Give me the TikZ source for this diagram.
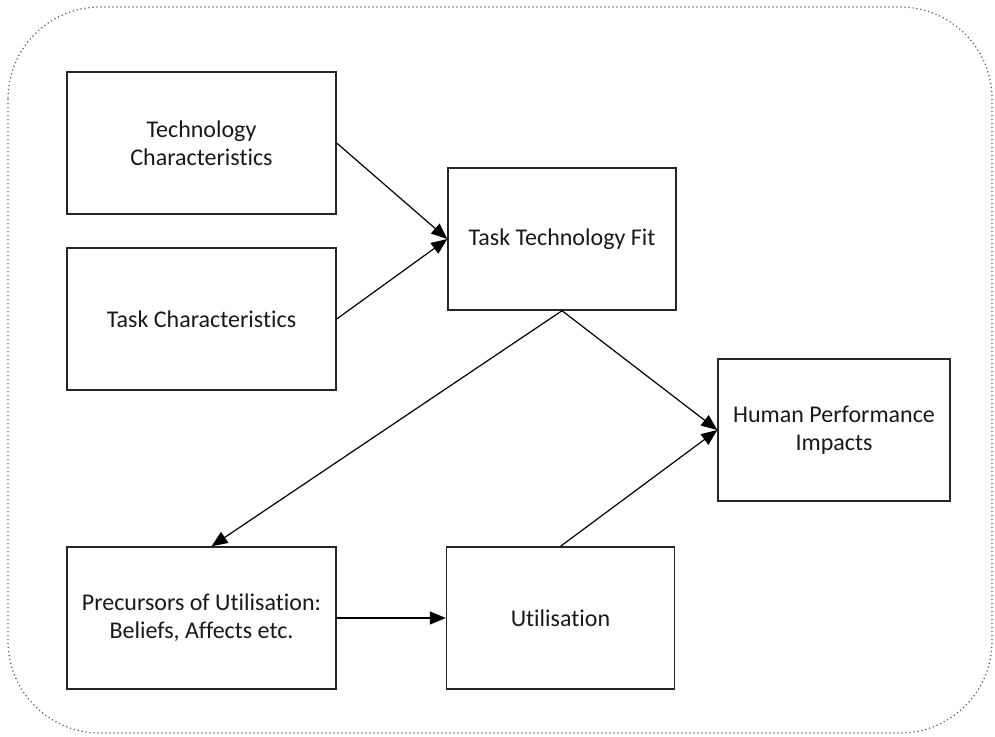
\documentclass[tikz,border=0pt]{standalone}
\usepackage{fontspec}
\setmainfont{Carlito}[Ligatures=NoCommon]
\usetikzlibrary{arrows.meta}
\begin{document}
\begin{tikzpicture}[x=1pt,y=-1pt,
  box/.style={draw=black!85, line width=1.4pt, minimum height=142pt, align=center,
    inner sep=0pt, font=\fontsize{24}{28}\selectfont, text=black!90},
  wide/.style={box, minimum width=269pt},
  mid/.style={box, minimum width=228pt},
  link/.style={line width=1.2pt, -{Triangle[length=16pt,width=13pt]}},
  frame/.style={draw=black!65, line width=1.2pt, dash pattern=on 1.2pt off 2.8pt, rounded corners=92pt}]
\useasboundingbox (0,0) rectangle (995,736);
\path[frame] (8,7) rectangle (992,733);

\node[wide] (tech) at (201.5,143) {Technology\\Characteristics};
\node[wide] (task) at (201.5,319) {Task Characteristics};
\node[mid]  (ttf)  at (562,239)   {Task Technology Fit};
\node[box, minimum width=232pt] (hpi) at (834,430) {Human Performance\\Impacts};
\node[wide] (prec) at (201.5,618) {Precursors of Utilisation:\\Beliefs, Affects etc.};
\node[mid]  (util) at (560.5,618) {Utilisation};

\draw[link] (tech.east) -- (ttf.west);
\draw[link] (task.east) -- (ttf.west);
\draw[link] (ttf.south) -- (hpi.west);
\draw[link] (ttf.south) -- ([xshift=10pt]prec.north);
\draw[link] (prec.east) -- (util.west);
\draw[link] (util.north) -- (hpi.west);
\end{tikzpicture}
\end{document}
